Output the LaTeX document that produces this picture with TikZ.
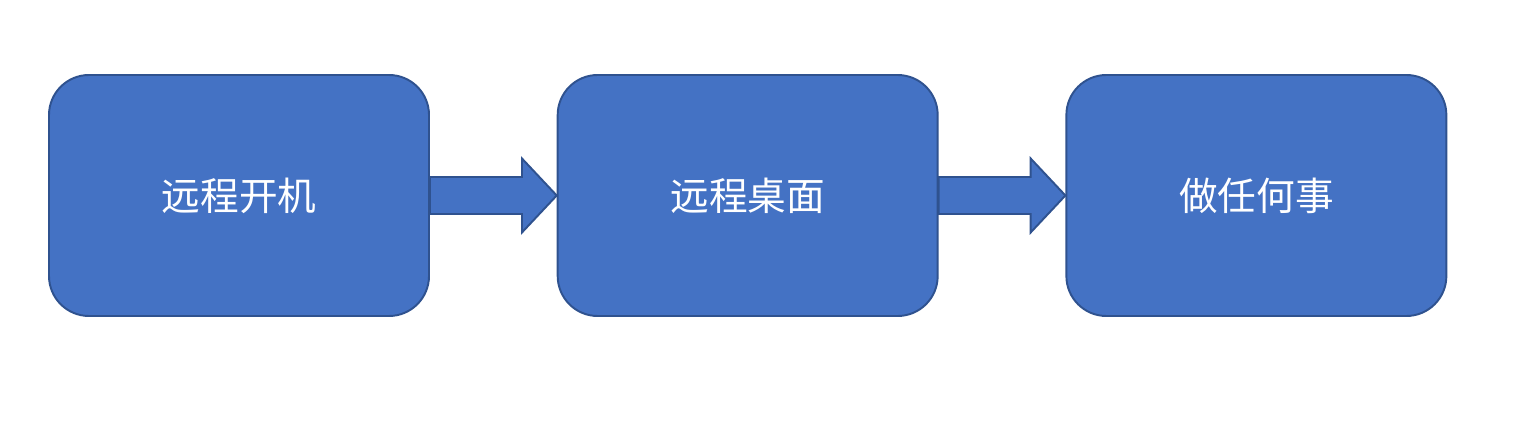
\documentclass[tikz,border=0pt]{standalone}
\usepackage{fontspec}
\newfontfamily\cjk{Noto Sans CJK SC}
\definecolor{BoxBlue}{RGB}{68, 114, 196}
\definecolor{BoxEdge}{RGB}{47, 82, 143}
\usetikzlibrary{positioning}

\begin{document}
\begin{tikzpicture}[
        box/.style={rectangle, draw=BoxEdge, fill=BoxBlue, line width=1.1pt, rounded corners=0.8cm, minimum width=7.6cm, minimum height=4.82cm, align=center, text=white, font=\cjk\fontsize{22}{26}\selectfont},
        blockarrow/.style={draw=BoxEdge, fill=BoxBlue, line width=1.1pt}
    ]
        \useasboundingbox (0,0) rectangle (30.54,8.92);

        % Steps
        \node[box] (boot) at (4.78, 5.01) {远程开机};
        \node[box, right=2.535cm of boot] (desk) {远程桌面};
        \node[box, right=2.535cm of desk] (task) {做任何事};

        % Block arrows between steps
        \foreach \a/\b in {boot/desk, desk/task} {
            \draw[blockarrow] ([yshift=0.37cm]\a.east) -- ++(1.84,0) -- ++(0,0.37) -- (\b.west)
                -- ([xshift=1.84cm, yshift=-0.74cm]\a.east) -- ++(0,0.37) -- ([yshift=-0.37cm]\a.east) -- cycle;
        }
    \end{tikzpicture}
\end{document}
